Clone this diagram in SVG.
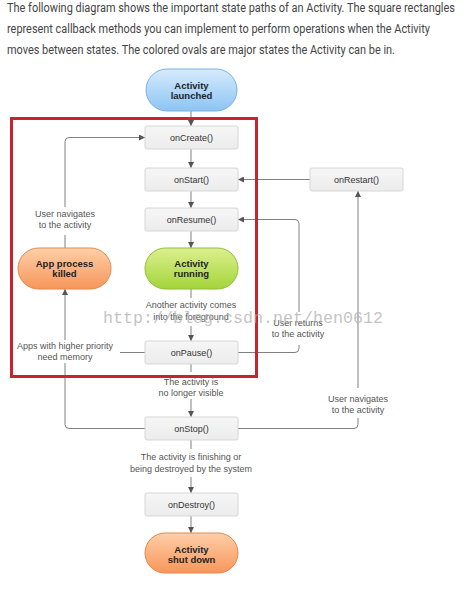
<svg xmlns="http://www.w3.org/2000/svg" width="468" height="610" viewBox="0 0 468 610">
<defs>
<linearGradient id="gBlue" x1="0" y1="0" x2="0" y2="1"><stop offset="0" stop-color="#d6ebfd"/><stop offset="1" stop-color="#8cc4f4"/></linearGradient>
<linearGradient id="gGreen" x1="0" y1="0" x2="0" y2="1"><stop offset="0" stop-color="#dcf08e"/><stop offset="1" stop-color="#a3d43a"/></linearGradient>
<linearGradient id="gOrange" x1="0" y1="0" x2="0" y2="1"><stop offset="0" stop-color="#ffcfa8"/><stop offset="1" stop-color="#f7965a"/></linearGradient>
<linearGradient id="gBox" x1="0" y1="0" x2="0" y2="1"><stop offset="0" stop-color="#f6f6f6"/><stop offset="1" stop-color="#ececec"/></linearGradient>
<marker id="arr" viewBox="0 0 10 10" refX="10" refY="5" markerWidth="6" markerHeight="6" orient="auto" markerUnits="userSpaceOnUse"><path d="M0 0 L10 5 L0 10 Z" fill="#555"/></marker>
</defs>
<style>
.para{font-family:Roboto,"Liberation Sans",sans-serif;font-size:12px;fill:#444}
.box{fill:url(#gBox);stroke:#d6d6d6;stroke-width:1}
.bt{font-family:"Liberation Sans",Arial,sans-serif;font-size:9px;fill:#333;text-anchor:middle}
.ot{font-family:"Liberation Sans",Arial,sans-serif;font-size:9.5px;font-weight:bold;fill:#222;text-anchor:middle}
.lb{font-family:"Liberation Sans",Arial,sans-serif;font-size:9px;fill:#555;text-anchor:middle}
.c{fill:none;stroke:#808080;stroke-width:1}
.ca{fill:none;stroke:#808080;stroke-width:1;marker-end:url(#arr)}
</style>
<rect width="468" height="610" fill="#ffffff"/>
<text class="para" x="7" y="12" textLength="448" lengthAdjust="spacingAndGlyphs">The following diagram shows the important state paths of an Activity. The square rectangles</text>
<text class="para" x="7" y="33" textLength="423" lengthAdjust="spacingAndGlyphs">represent callback methods you can implement to perform operations when the Activity</text>
<text class="para" x="7" y="54" textLength="388" lengthAdjust="spacingAndGlyphs">moves between states. The colored ovals are major states the Activity can be in.</text>

<g id="connectors">
<path class="ca" d="M191 111 V126"/>
<path class="ca" d="M191 149 V168"/>
<path class="ca" d="M191 191 V208"/>
<path class="ca" d="M191 231 V248"/>
<path class="c" d="M191 289 V298"/>
<path class="ca" d="M191 326 V341"/>
<path class="c" d="M191 364 V372"/>
<path class="ca" d="M191 399 V417"/>
<path class="c" d="M191 440 V449"/>
<path class="ca" d="M191 477 V493"/>
<path class="ca" d="M191 516 V533"/>
<path class="ca" d="M310 179.5 H238"/>
<path class="c" d="M238 428.5 H354 Q358 428.5 358 424.5 V418"/>
<path class="ca" d="M358 388 V191"/>
<path class="c" d="M238 352.5 H295 Q299 352.5 299 348.5 V345"/>
<path class="ca" d="M299 312 V223.5 Q299 219.5 295 219.5 H238"/>
<path class="c" d="M145 428.5 H69 Q65 428.5 65 424.5 V363"/>
<path class="ca" d="M65 340 V289"/>
<path class="c" d="M145 352.5 H120"/>
<path class="c" d="M65 248 V235"/>
<path class="ca" d="M65 207 V141.5 Q65 137.5 69 137.5 H145"/>
</g>

<g id="labels">
<text class="lb" x="65" y="217">User navigates</text>
<text class="lb" x="65" y="228">to the activity</text>
<text class="lb" x="191" y="308">Another activity comes</text>
<text class="lb" x="191" y="320">into the foreground</text>
<text class="lb" x="298" y="326">User returns</text>
<text class="lb" x="298" y="337">to the activity</text>
<text class="lb" x="65" y="349">Apps with higher priority</text>
<text class="lb" x="65" y="360">need memory</text>
<text class="lb" x="191" y="385">The activity is</text>
<text class="lb" x="191" y="396">no longer visible</text>
<text class="lb" x="358" y="402">User navigates</text>
<text class="lb" x="358" y="413">to the activity</text>
<text class="lb" x="191" y="460">The activity is finishing or</text>
<text class="lb" x="191" y="472">being destroyed by the system</text>
</g>

<g id="launched">
<rect x="146" y="69" width="91" height="42" rx="21" fill="url(#gBlue)" stroke="#7fb0df"/>
<text class="ot" x="191.5" y="88.5">Activity</text>
<text class="ot" x="191.5" y="98.5">launched</text>
</g>
<g id="onCreate"><rect class="box" x="145" y="126" width="93" height="23" rx="2"/><text class="bt" x="191.5" y="140.5">onCreate()</text></g>
<g id="onStart"><rect class="box" x="145" y="168" width="93" height="23" rx="2"/><text class="bt" x="191.5" y="182.5">onStart()</text></g>
<g id="onResume"><rect class="box" x="145" y="208" width="93" height="23" rx="2"/><text class="bt" x="191.5" y="222.5">onResume()</text></g>
<g id="running">
<rect x="145" y="248" width="93" height="41" rx="20.5" fill="url(#gGreen)" stroke="#8fbf33"/>
<text class="ot" x="191.5" y="266.5">Activity</text>
<text class="ot" x="191.5" y="276.5">running</text>
</g>
<g id="killed">
<rect x="18" y="248" width="93" height="41" rx="20.5" fill="url(#gOrange)" stroke="#e5874c"/>
<text class="ot" x="64.5" y="266.5">App process</text>
<text class="ot" x="64.5" y="277">killed</text>
</g>
<g id="onPause"><rect class="box" x="145" y="341" width="93" height="23" rx="2"/><text class="bt" x="191.5" y="355.5">onPause()</text></g>
<g id="onStop"><rect class="box" x="145" y="417" width="93" height="23" rx="2"/><text class="bt" x="191.5" y="431.5">onStop()</text></g>
<g id="onDestroy"><rect class="box" x="145" y="493" width="93" height="23" rx="2"/><text class="bt" x="191.5" y="507.5">onDestroy()</text></g>
<g id="shutdown">
<rect x="145" y="533" width="93" height="40" rx="20" fill="url(#gOrange)" stroke="#e5874c"/>
<text class="ot" x="191.5" y="552.5">Activity</text>
<text class="ot" x="191.5" y="562.5">shut down</text>
</g>
<g id="onRestart"><rect class="box" x="310" y="168" width="93" height="23" rx="2"/><text class="bt" x="356.5" y="182.5">onRestart()</text></g>

<rect x="11.5" y="118.5" width="245" height="258" fill="none" stroke="#c9242e" stroke-width="3"/>
<text x="103" y="323" font-family="'Liberation Mono','DejaVu Sans Mono',monospace" font-size="17" fill="#b0b0b0" fill-opacity="0.75" textLength="280" lengthAdjust="spacingAndGlyphs">http://blog.csdn.net/hen0612</text>
</svg>
